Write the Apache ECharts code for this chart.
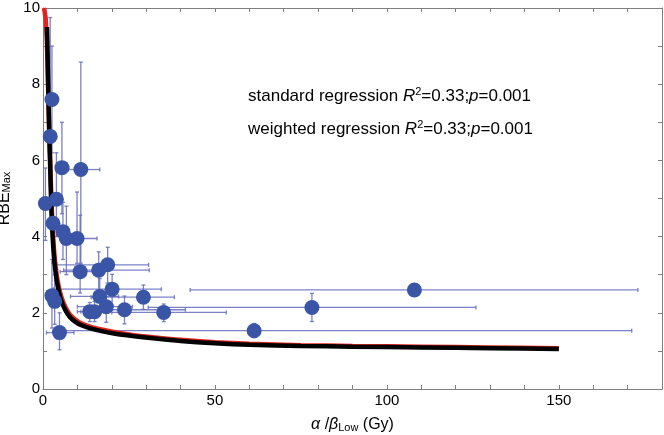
<!DOCTYPE html>
<html><head><meta charset="utf-8">
<script src="https://cdn.jsdelivr.net/npm/echarts@6/dist/echarts.min.js"></script>
<style>html,body{margin:0;padding:0;background:#fff}#c{width:664px;height:435px}</style>
</head><body><div id="c"></div>
<script>
// ---- data ----
const ptX  = [0.7, 2.1, 2.6, 3.9, 2.9, 5.5, 11.0, 5.8, 6.8, 9.9, 10.8, 16.2, 18.8, 20.1, 2.6, 3.4, 16.5, 18.4, 13.6, 15.0, 23.7, 29.2, 4.8, 35.1, 61.4, 78.2, 108.0];
const ptY  = [4.87, 6.63, 7.6, 4.98, 4.35, 5.81, 5.76, 4.13, 3.95, 3.95, 3.08, 3.12, 3.26, 2.62, 2.45, 2.3, 2.43, 2.16, 2.03, 2.03, 2.08, 2.41, 1.48, 2.01, 1.53, 2.14, 2.60];
const xLo  = [0, 1.2, 1.8, 2.5, 2.0, 4.0, 7.4, 4.5, 5.0, 5.5, 5.0, 6.0, 4.0, 3.0, 1.5, 2.0, 8.0, 10.0, 10.0, 11.0, 12.0, 14.0, 1.0, 20.0, 3.0, 30.6, 42.8];
const xHi  = [2.0, 3.2, 3.5, 5.5, 4.0, 7.5, 16.5, 7.5, 9.0, 15.7, 16.0, 30.9, 30.7, 34.4, 4.0, 5.0, 22.0, 26.0, 17.0, 19.0, 41.4, 38.2, 9.0, 53.3, 171.2, 125.9, 173.0];
const yLo  = [3.9, 5.0, 6.2, 4.0, 3.3, 4.6, 3.3, 3.4, 3.0, 3.3, 2.52, 2.6, 2.78, 2.2, 1.6, 1.7, 2.0, 1.75, 1.77, 1.77, 1.71, 2.09, 1.03, 1.77, 1.35, 1.77, 2.52];
const yHi  = [5.8, 9.75, 9.0, 6.2, 5.0, 7.0, 8.58, 4.9, 4.8, 5.17, 4.56, 3.6, 3.72, 3.01, 3.4, 3.0, 2.9, 2.6, 2.27, 2.3, 2.44, 2.73, 2.0, 2.23, 1.72, 2.51, 2.68];

const blackX = [1.15, 1.35, 1.6, 1.85, 2.1, 2.4, 2.8, 3.3, 3.9, 4.6, 5.4, 6.5, 7.8, 9.3, 11, 13.5, 17, 21, 26, 32, 40, 50, 60, 75, 90, 110, 130, 150];
const blackY = [9.5, 8.7, 7.6, 6.6, 5.8, 4.8, 4.0, 3.35, 2.9, 2.56, 2.3, 2.07, 1.89, 1.77, 1.68, 1.60, 1.52, 1.45, 1.39, 1.33, 1.26, 1.20, 1.16, 1.13, 1.11, 1.09, 1.07, 1.05];
const redX = [0.3, 0.8, 1.2, 1.5, 1.8, 2.1, 2.4, 2.8, 3.3, 3.9, 4.6, 5.4, 6.5, 7.8, 9.3, 11, 13.5, 17, 21, 26, 32, 40, 50, 60, 75, 90, 110, 130, 150];
const redY = [10, 9.7, 8.9, 7.8, 6.8, 6.0, 5.1, 4.25, 3.55, 3.05, 2.68, 2.4, 2.15, 1.96, 1.83, 1.73, 1.64, 1.56, 1.49, 1.42, 1.36, 1.29, 1.23, 1.19, 1.15, 1.13, 1.11, 1.09, 1.07];

const xTickLabels = [0, 50, 100, 150];
const yTickLabels = [0, 2, 4, 6, 8, 10];
const noteLines = ['standard regression', 'weighted regression'];
const noteR2 = '0.33';
const noteP = '0.001';

// ---- build ----
const ebData = ptX.map((x, i) => [x, ptY[i], xLo[i], xHi[i], yLo[i], yHi[i]]);
const pts = ptX.map((x, i) => [x, ptY[i]]);
const black = blackX.map((x, i) => [x, blackY[i]]);
const red = redX.map((x, i) => [x, redY[i]]);

const frame = '#7f7f7f';
const ebColor = 'rgba(100,108,188,0.85)';
const FONT = 'Liberation Sans, Arial, sans-serif';

function errRender(params, api) {
  const x = api.value(0), y = api.value(1);
  const pL = api.coord([api.value(2), y]), pH = api.coord([api.value(3), y]);
  const pB = api.coord([x, api.value(4)]), pT = api.coord([x, api.value(5)]);
  const c = 2;
  const st = { stroke: ebColor, lineWidth: 1.3 };
  const L = (x1, y1, x2, y2) => ({ type: 'line', shape: { x1, y1, x2, y2 }, style: st });
  return { type: 'group', children: [
    L(pL[0], pL[1], pH[0], pH[1]),
    L(pL[0], pL[1] - c, pL[0], pL[1] + c),
    L(pH[0], pH[1] - c, pH[0], pH[1] + c),
    L(pB[0], pB[1], pT[0], pT[1]),
    L(pB[0] - c, pB[1], pB[0] + c, pB[1]),
    L(pT[0] - c, pT[1], pT[0] + c, pT[1])
  ]};
}

const axisCommon = {
  type: 'value',
  axisLine: { show: true, onZero: false, lineStyle: { color: frame, width: 1 } },
  axisTick: { show: true, inside: true, length: 4, lineStyle: { color: frame } },
  splitLine: { show: false }
};

const noteRich = {
  n: { fontSize: 17, fontFamily: FONT, fontWeight: 'normal', color: '#000', lineHeight: 19, verticalAlign: 'bottom' },
  i: { fontSize: 17, fontFamily: FONT, fontWeight: 'normal', fontStyle: 'italic', color: '#000', lineHeight: 19, verticalAlign: 'bottom' },
  sup: { fontSize: 11, fontFamily: FONT, fontWeight: 'normal', color: '#000', lineHeight: 11, padding: [0, 0, 8, 0], verticalAlign: 'top' }
};
function noteText(label) {
  return '{n|' + label + ' }{i|R}{sup|2}{n|=' + noteR2 + ';}{i|p}{n|=' + noteP + '}';
}

const chart = echarts.init(document.getElementById('c'), null, { renderer: 'canvas' });
chart.setOption({
  animation: false,
  backgroundColor: '#fff',
  title: noteLines.map((t, k) => ({
    text: noteText(t), left: 248, top: 86 + k * 33, padding: 0,
    textStyle: { fontWeight: 'normal', rich: noteRich }
  })),
  grid: { left: 43, right: 2, top: 8, bottom: 46, containLabel: false, outerBoundsMode: 'none' },
  xAxis: [
    Object.assign({}, axisCommon, {
      min: 0, max: 180, interval: 10, position: 'bottom',
      axisLabel: {
        fontSize: 15, fontFamily: FONT, color: '#000', margin: 4,
        formatter: v => xTickLabels.includes(v) ? String(v) : ''
      },
      name: '{a|α}{n| /}{a|β}{s|Low}{n| (Gy)}',
      nameLocation: 'middle', nameGap: 28,
      nameTextStyle: { rich: {
        a: { fontSize: 16, fontFamily: FONT, fontStyle: 'italic', color: '#000', lineHeight: 16, verticalAlign: 'top' },
        n: { fontSize: 16, fontFamily: FONT, color: '#000', lineHeight: 16, verticalAlign: 'top' },
        s: { fontSize: 11, fontFamily: FONT, color: '#000', lineHeight: 11, padding: [7, 0, 0, 0], verticalAlign: 'bottom' }
      } }
    }),
    Object.assign({}, axisCommon, {
      min: 0, max: 180, interval: 10, position: 'top', axisLabel: { show: false }
    })
  ],
  yAxis: [
    Object.assign({}, axisCommon, {
      min: 0, max: 10, interval: 1, position: 'left',
      axisLabel: {
        fontSize: 15, fontFamily: FONT, color: '#000', margin: 3,
        formatter: v => yTickLabels.includes(v) ? String(v) : ''
      },
      name: '{n|RBE}{s|Max}',
      nameLocation: 'middle', nameGap: 22, nameRotate: 90,
      nameTextStyle: { rich: {
        n: { fontSize: 16, fontFamily: FONT, color: '#000', lineHeight: 16, verticalAlign: 'top' },
        s: { fontSize: 11, fontFamily: FONT, color: '#000', lineHeight: 11, padding: [7, 0, 0, 0], verticalAlign: 'bottom' }
      } }
    }),
    Object.assign({}, axisCommon, {
      min: 0, max: 10, interval: 1, position: 'right', axisLabel: { show: false }
    })
  ],
  series: [
    { type: 'custom', renderItem: errRender, data: ebData, encode: { x: 0, y: 1 }, z: 2, clip: true },
    { type: 'line', data: red, showSymbol: false, smooth: 0.25, lineStyle: { color: '#e3241e', width: 4.5 }, z: 3, clip: true },
    { type: 'line', data: black, showSymbol: false, smooth: 0.25, lineStyle: { color: '#000', width: 4.5 }, z: 4, clip: true },
    { type: 'scatter', data: pts, symbolSize: 15, itemStyle: { color: '#3b55a6', opacity: 1 }, z: 5 }
  ]
});
</script></body></html>
